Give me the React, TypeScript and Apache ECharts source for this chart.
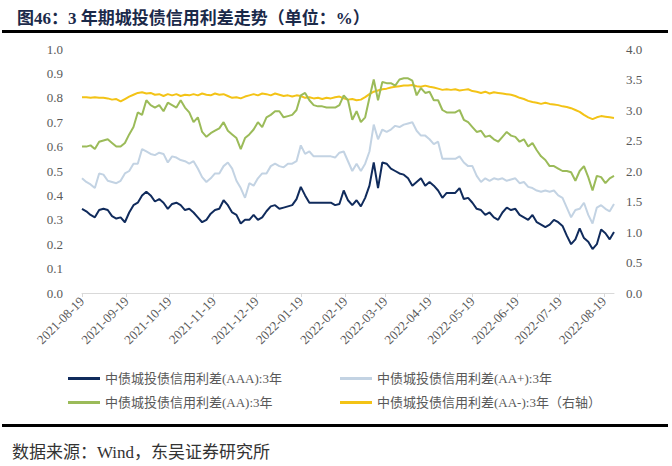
import React, { useEffect, useRef } from "react";
import * as echarts from "echarts";

const titleText = "图46：3 年期城投债信用利差走势（单位：%）";
const sourceText = "数据来源：Wind，东吴证券研究所";
const seriesNames = [
  "中债城投债信用利差(AAA):3年",
  "中债城投债信用利差(AA+):3年",
  "中债城投债信用利差(AA):3年",
  "中债城投债信用利差(AA-):3年（右轴）",
];
const axisStart = "2021-08-19";
const axisEnd = "2022-08-26";
const sampleStepDays = 3;
const leftTicks = [0, 1, 0.1];
const rightTicks = [0, 4, 0.5];

const aaa = [
  0.345, 0.335, 0.32, 0.31, 0.34, 0.345, 0.34, 0.315, 0.305, 0.31,
  0.29, 0.33, 0.36, 0.37, 0.4, 0.415, 0.4, 0.375, 0.385, 0.37,
  0.345, 0.365, 0.37, 0.36, 0.34, 0.345, 0.33, 0.31, 0.29, 0.3,
  0.325, 0.34, 0.345, 0.38, 0.36, 0.33, 0.32, 0.285, 0.3, 0.3,
  0.32, 0.3, 0.31, 0.335, 0.355, 0.36, 0.345, 0.35, 0.355, 0.36,
  0.385, 0.435, 0.4, 0.37, 0.37, 0.37, 0.37, 0.37, 0.37, 0.36,
  0.365, 0.42, 0.38, 0.36, 0.38, 0.355, 0.39, 0.44, 0.535, 0.43,
  0.535, 0.53, 0.51, 0.5, 0.49, 0.485, 0.47, 0.44, 0.455, 0.47,
  0.44, 0.455, 0.44, 0.42, 0.39, 0.41, 0.41, 0.41, 0.43, 0.385,
  0.39, 0.37, 0.345, 0.34, 0.32, 0.33, 0.31, 0.3, 0.33, 0.35,
  0.34, 0.345, 0.32, 0.31, 0.3, 0.32, 0.29, 0.28, 0.27, 0.28,
  0.3, 0.29, 0.275, 0.235, 0.2, 0.22, 0.265, 0.225, 0.21, 0.18,
  0.2, 0.26, 0.245, 0.22, 0.25,
];
const aaPlus = [
  0.47, 0.455, 0.445, 0.43, 0.49, 0.485, 0.46, 0.455, 0.45, 0.46,
  0.49, 0.5, 0.53, 0.53, 0.59, 0.58, 0.57, 0.565, 0.575, 0.57,
  0.535, 0.56, 0.555, 0.545, 0.54, 0.53, 0.54, 0.51, 0.475, 0.455,
  0.47, 0.49, 0.49, 0.52, 0.535, 0.51, 0.46, 0.43, 0.39, 0.45,
  0.44, 0.47, 0.49, 0.49, 0.52, 0.53, 0.52, 0.515, 0.53, 0.53,
  0.54, 0.605, 0.57, 0.58, 0.56, 0.56, 0.56, 0.56, 0.56, 0.555,
  0.575, 0.58, 0.54, 0.5, 0.53, 0.5, 0.53, 0.58, 0.69, 0.63,
  0.67, 0.66, 0.67, 0.685, 0.68, 0.69, 0.695, 0.7, 0.665, 0.645,
  0.645, 0.63, 0.61, 0.62, 0.55, 0.55, 0.55, 0.55, 0.56, 0.535,
  0.52, 0.52, 0.48, 0.455, 0.47, 0.46, 0.47, 0.465, 0.47, 0.46,
  0.465, 0.47, 0.45, 0.455, 0.435, 0.43, 0.42, 0.415, 0.42, 0.415,
  0.42, 0.4, 0.39, 0.35, 0.31, 0.34, 0.345, 0.37, 0.32, 0.285,
  0.35, 0.36, 0.345, 0.335, 0.365,
];
const aa = [
  0.6, 0.6, 0.605, 0.59, 0.62, 0.625, 0.63, 0.615, 0.6, 0.6,
  0.615, 0.65, 0.68, 0.74, 0.73, 0.79, 0.77, 0.76, 0.77, 0.745,
  0.78, 0.77, 0.76, 0.79, 0.76, 0.74, 0.7, 0.72, 0.66, 0.64,
  0.655, 0.665, 0.675, 0.7, 0.665, 0.65, 0.635, 0.59, 0.635, 0.65,
  0.67, 0.7, 0.68, 0.72, 0.73, 0.745, 0.745, 0.72, 0.725, 0.73,
  0.75, 0.81, 0.82, 0.79, 0.77, 0.765, 0.765, 0.76, 0.76, 0.76,
  0.77, 0.81, 0.79, 0.71, 0.745, 0.7, 0.72, 0.8, 0.875, 0.79,
  0.865, 0.86, 0.86, 0.85, 0.875, 0.88, 0.88, 0.87, 0.81, 0.84,
  0.82, 0.825, 0.79, 0.79, 0.75, 0.74, 0.74, 0.74, 0.75, 0.71,
  0.7, 0.68, 0.66, 0.665, 0.64, 0.645, 0.63, 0.62, 0.64, 0.66,
  0.645, 0.64, 0.62, 0.63, 0.6, 0.615, 0.585, 0.56, 0.545, 0.52,
  0.52, 0.51, 0.5, 0.5, 0.495, 0.46, 0.5, 0.52, 0.475, 0.42,
  0.48, 0.475, 0.45, 0.47, 0.48,
];
const aaMinus = [
  3.21, 3.21, 3.2, 3.21, 3.2, 3.2, 3.19, 3.17, 3.18, 3.14,
  3.18, 3.22, 3.25, 3.28, 3.29, 3.27, 3.28, 3.25, 3.26, 3.23,
  3.26, 3.24, 3.26, 3.23, 3.25, 3.24, 3.26, 3.24, 3.27, 3.25,
  3.24, 3.27, 3.25, 3.26, 3.23, 3.2, 3.21, 3.19, 3.22, 3.24,
  3.26, 3.24, 3.27, 3.26, 3.24, 3.27, 3.25, 3.23, 3.24, 3.22,
  3.24, 3.23, 3.2, 3.21, 3.19, 3.2, 3.18, 3.2, 3.19, 3.21,
  3.22, 3.19, 3.17, 3.18, 3.16, 3.17, 3.21, 3.26, 3.3, 3.32,
  3.34, 3.35, 3.37, 3.38, 3.39, 3.4, 3.4, 3.41, 3.39, 3.38,
  3.4, 3.38, 3.37, 3.35, 3.33, 3.34, 3.33, 3.34, 3.32, 3.33,
  3.34, 3.31, 3.3, 3.28, 3.3, 3.27, 3.29, 3.28, 3.27, 3.26,
  3.25, 3.23, 3.2, 3.18, 3.15, 3.13, 3.12, 3.1, 3.12, 3.1,
  3.09, 3.08, 3.06, 3.05, 3.03, 3.0, 2.97, 2.92, 2.88, 2.85,
  2.88, 2.9, 2.89, 2.88, 2.87,
];

const colors = ["#102b5c", "#c3d3e3", "#9bbb59", "#f3c316"];

function fmt(d: Date) {
  const y = d.getUTCFullYear();
  const m = String(d.getUTCMonth() + 1).padStart(2, "0");
  const day = String(d.getUTCDate()).padStart(2, "0");
  return `${y}-${m}-${day}`;
}

function dayList(start: string, end: string) {
  const out: string[] = [];
  const d = new Date(start + "T00:00:00Z");
  const e = new Date(end + "T00:00:00Z");
  while (d.getTime() <= e.getTime()) {
    out.push(fmt(d));
    d.setUTCDate(d.getUTCDate() + 1);
  }
  return out;
}

const categories = dayList(axisStart, axisEnd);

function pairs(values: number[]) {
  return values.map((v, i) => [categories[i * sampleStepDays], v]);
}

const serifFont = "'Liberation Serif', 'Times New Roman', 'Noto Sans CJK SC', serif";

export default function App() {
  const ref = useRef<HTMLDivElement>(null);
  useEffect(() => {
    if (!ref.current) return;
    const chart = echarts.init(ref.current, undefined, { renderer: "svg" });
    const isTick = (_i: number, v: string) => v.slice(8) === "19";
    const legendPos = [
      [68, 372],
      [340, 372],
      [68, 396],
      [340, 396],
    ];
    chart.setOption({
      animation: false,
      backgroundColor: "#ffffff",
      title: {
        text: titleText,
        left: 12,
        top: 5,
        textStyle: {
          fontSize: 17,
          fontWeight: "bold",
          color: "#1b2a4a",
          fontFamily: "'Liberation Serif', 'Noto Sans CJK SC', sans-serif",
        },
      },
      grid: { left: 82, right: 58, top: 49, bottom: 173, containLabel: false },
      legend: seriesNames.map((n, i) => ({
        data: [n],
        left: legendPos[i][0],
        top: legendPos[i][1],
        icon: "rect",
        itemWidth: 32,
        itemHeight: 3,
        itemGap: 6,
        padding: 0,
        textStyle: { fontSize: 13, color: "#595959", fontFamily: serifFont },
      })),
      xAxis: {
        type: "category",
        data: categories,
        boundaryGap: false,
        axisLine: { lineStyle: { color: "#d9d9d9" } },
        axisTick: { interval: isTick, length: 4, lineStyle: { color: "#d9d9d9" } },
        axisLabel: {
          interval: isTick,
          rotate: 45,
          margin: 6,
          fontSize: 13,
          color: "#595959",
          fontFamily: serifFont,
        },
        splitLine: { show: false },
      },
      yAxis: [
        {
          type: "value",
          min: leftTicks[0],
          max: leftTicks[1],
          interval: leftTicks[2],
          axisLine: { show: false },
          axisTick: { show: false },
          splitLine: { show: false },
          axisLabel: {
            formatter: (v: number) => v.toFixed(1),
            margin: 19,
            fontSize: 13,
            color: "#595959",
            fontFamily: serifFont,
          },
        },
        {
          type: "value",
          min: rightTicks[0],
          max: rightTicks[1],
          interval: rightTicks[2],
          position: "right",
          axisLine: { show: false },
          axisTick: { show: false },
          splitLine: { show: false },
          axisLabel: {
            formatter: (v: number) => v.toFixed(1),
            margin: 12,
            fontSize: 13,
            color: "#595959",
            fontFamily: serifFont,
          },
        },
      ],
      series: [
        { name: seriesNames[3], data: pairs(aaMinus), yAxisIndex: 1, color: colors[3], z: 2 },
        { name: seriesNames[2], data: pairs(aa), yAxisIndex: 0, color: colors[2], z: 3 },
        { name: seriesNames[1], data: pairs(aaPlus), yAxisIndex: 0, color: colors[1], z: 4 },
        { name: seriesNames[0], data: pairs(aaa), yAxisIndex: 0, color: colors[0], z: 5 },
      ].map((s) => ({
        ...s,
        type: "line",
        showSymbol: false,
        symbol: "none",
        lineStyle: { width: 2, color: s.color },
        itemStyle: { color: s.color },
      })),
      graphic: [
        { type: "rect", shape: { x: 2, y: 30, width: 666, height: 3 }, style: { fill: "#000" } },
        { type: "rect", shape: { x: 2, y: 424, width: 666, height: 3 }, style: { fill: "#000" } },
        {
          type: "text",
          x: 12,
          y: 452,
          style: {
            text: sourceText,
            fontSize: 17,
            fill: "#333333",
            fontFamily: serifFont,
            verticalAlign: "middle",
          },
        },
      ],
    });
    return () => chart.dispose();
  }, []);
  return (
    <div
      ref={ref}
      style={{ position: "fixed", left: 0, top: 0, width: 672, height: 466, background: "#fff" }}
    />
  );
}
